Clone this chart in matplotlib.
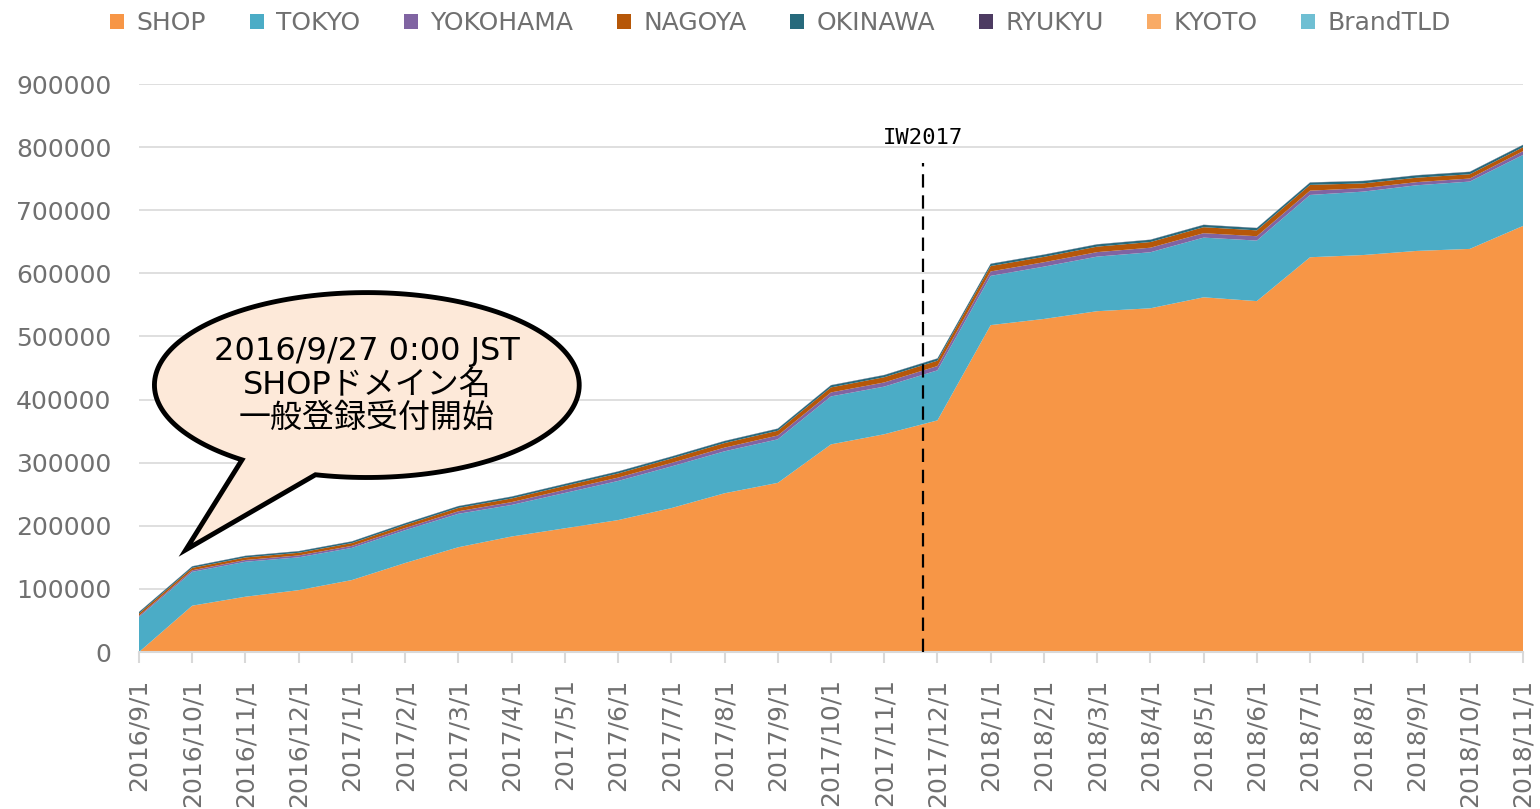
import numpy as np
import matplotlib
matplotlib.use("Agg")
import matplotlib.pyplot as plt
from matplotlib.patches import Polygon

plt.rcParams['font.family'] = ['DejaVu Sans', 'Noto Sans CJK JP']

# Monthly registrations (cumulative)
dates = ["2016/9/1", "2016/10/1", "2016/11/1", "2016/12/1", "2017/1/1", "2017/2/1",
         "2017/3/1", "2017/4/1", "2017/5/1", "2017/6/1", "2017/7/1", "2017/8/1",
         "2017/9/1", "2017/10/1", "2017/11/1", "2017/12/1", "2018/1/1", "2018/2/1",
         "2018/3/1", "2018/4/1", "2018/5/1", "2018/6/1", "2018/7/1", "2018/8/1",
         "2018/9/1", "2018/10/1", "2018/11/1"]

shop = [0, 73400, 87600, 98000, 114000, 141000, 166000, 183000, 196000, 209000,
        228000, 251500, 268000, 329000, 345000, 367000, 518000, 527700, 540000,
        544600, 562000, 556000, 625500, 629000, 635500, 638700, 675100]
tokyo = [55500, 53600, 55400, 52000, 51000, 52000, 53000, 50000, 56000, 62000,
         66000, 66500, 69000, 76000, 75500, 79300, 78000, 82900, 86500, 88800,
         94600, 95900, 98700, 100500, 104000, 106700, 112500]
yokohama = [2000, 2500, 2800, 3000, 3200, 3500, 4000, 4500, 5000, 5300, 5500, 5800,
            6000, 6300, 6600, 6800, 7000, 7000, 7100, 7200, 7000, 6900, 6800, 5500,
            5000, 4800, 6000]
nagoya = [3500, 3800, 4000, 4200, 4400, 4800, 5300, 5800, 6200, 6600, 7000, 7300,
          7600, 8000, 8300, 8500, 8600, 8500, 8700, 9000, 9500, 9300, 9200, 7500,
          7000, 6800, 6200]
okinawa = [2200, 2300, 2400, 2400, 2500, 2600, 2700, 2800, 2900, 3000, 3000, 3100,
           3200, 3300, 3300, 3400, 3400, 3400, 3500, 3500, 3600, 3600, 3600, 3700,
           3700, 3700, 3600]
ryukyu = [300, 300, 300, 300, 300, 300, 300, 300, 300, 300, 300, 300, 300, 300,
          300, 300, 300, 300, 300, 300, 300, 300, 300, 300, 300, 300, 300]
kyoto = [0, 0, 0, 0, 0, 0, 0, 0, 0, 0, 0, 0, 0, 0, 0, 0, 0, 0, 0, 0, 0, 0, 0, 0,
         0, 0, 0]
brandtld = [100, 100, 100, 100, 100, 100, 100, 100, 100, 100, 100, 100, 100, 100,
            100, 100, 100, 100, 100, 100, 100, 100, 100, 100, 100, 100, 100]

labels = ["SHOP", "TOKYO", "YOKOHAMA", "NAGOYA", "OKINAWA", "RYUKYU", "KYOTO", "BrandTLD"]
colors = ["#F79646", "#4BACC6", "#8064A2", "#B65708", "#276A7C", "#4D3B62", "#F9AB66", "#6FBFD3"]

iw2017_pos = 14.73   # IW2017, between 2017/11/1 and 2017/12/1
iw2017_top = 775000

gray = "#707070"
grid_gray = "#D9D9D9"

fig = plt.figure(figsize=(15.4, 8.09), dpi=100)
ax = fig.add_axes([139/1540, 1-652/809, (1523-139)/1540, (652-84)/809])

x = np.arange(len(dates))
ax.stackplot(x, shop, tokyo, yokohama, nagoya, okinawa, ryukyu, kyoto, brandtld,
             labels=labels, colors=colors, linewidth=0, zorder=2)

ax.set_xlim(0, len(dates) - 1)
ax.set_ylim(0, 900000)
ax.set_yticks(range(0, 900001, 100000))
ax.set_yticklabels([str(v) for v in range(0, 900001, 100000)])
ax.set_xticks(x)
ax.set_xticklabels(dates, rotation=90)
ax.tick_params(axis='y', length=0, labelsize=18, labelcolor=gray, pad=20)
ax.tick_params(axis='x', length=8, width=1.5, color=grid_gray, labelsize=18,
               labelcolor=gray, pad=11)
ax.grid(axis='y', color=grid_gray, linewidth=1.2, zorder=0)
ax.set_axisbelow(True)
for s in ['top', 'right', 'left']:
    ax.spines[s].set_visible(False)
ax.spines['bottom'].set_color(grid_gray)
ax.spines['bottom'].set_linewidth(1.5)
ax.spines['bottom'].set_zorder(3)

# IW2017 marker
ax.vlines(iw2017_pos, 0, iw2017_top, colors='black', linewidth=1.6,
          linestyles=(0, (6, 3.5)), zorder=4)
ax.text(iw2017_pos, 815000, "IW2017", ha='center', va='center', fontsize=16,
        family='DejaVu Sans Mono', color='black')

# speech bubble
cx, cy = 4.28, 423000
a, b = 7.98 / 2, 293000 / 2
t = np.radians(np.linspace(256, 594, 200))
px = list(cx + a * np.cos(t)) + [0.88]
py = list(cy + b * np.sin(t)) + [162000]
bubble = Polygon(np.column_stack([px, py]), closed=True, facecolor="#FDE9D9",
                 edgecolor='black', linewidth=3.5, joinstyle='miter', zorder=6,
                 clip_on=False)
ax.add_patch(bubble)
ax.text(cx, 423000, "2016/9/27 0:00 JST\nSHOPドメイン名\n一般登録受付開始",
        ha='center', va='center', fontsize=23, linespacing=1.1, color='black',
        family=['DejaVu Sans', 'Noto Sans CJK JP'], zorder=7)

leg = fig.legend(loc='center', bbox_to_anchor=(0.507, 1-23/809), ncol=8,
                 frameon=False, fontsize=18, handlelength=0.55, handleheight=0.55,
                 handletextpad=0.5, columnspacing=1.75, labelcolor=gray)

fig.savefig("out.png", dpi=100)
